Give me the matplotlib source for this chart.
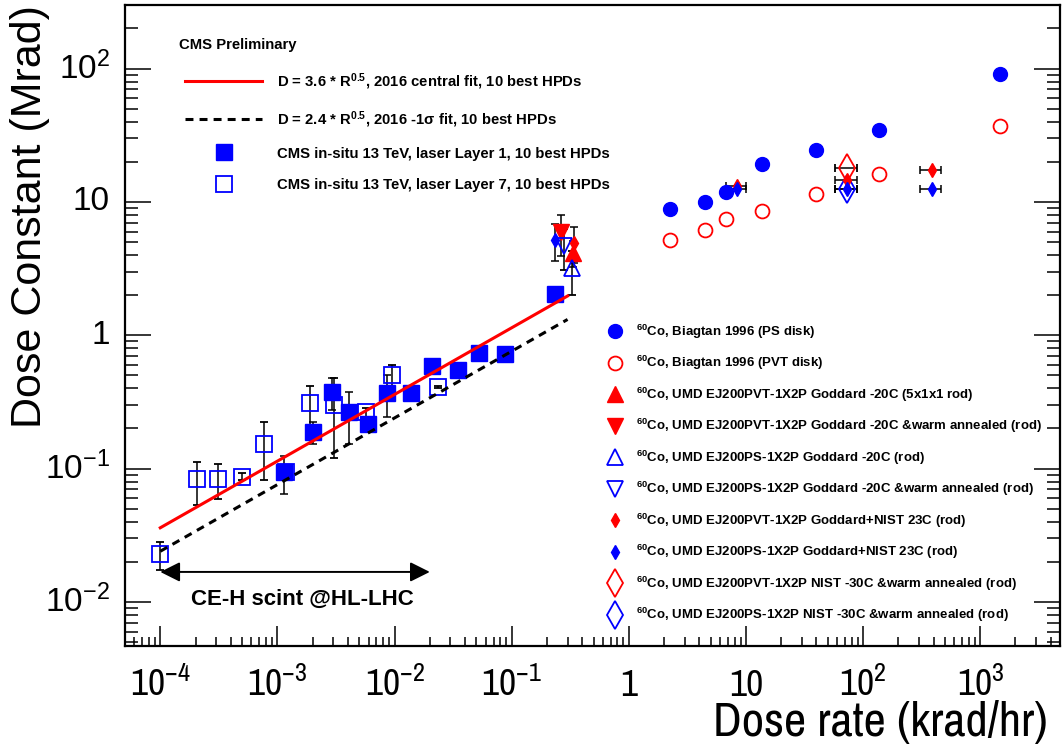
import numpy as np
import matplotlib
matplotlib.use("Agg")
import matplotlib.pyplot as plt
from matplotlib.lines import Line2D
from matplotlib.ticker import LogLocator, NullFormatter

plt.rcParams['font.family'] = ['Liberation Sans', 'DejaVu Sans']
plt.rcParams['mathtext.fontset'] = 'custom'
plt.rcParams['mathtext.default'] = 'regular'

BLUE = '#0000ff'
RED = '#ff0000'
NARROW = ['Liberation Sans Narrow', 'Archivo Narrow', 'Liberation Sans']

# CMS in-situ 13 TeV, laser Layer 1 (filled squares)
l1_rate = [1.14e-3, 2.0e-3, 2.95e-3, 4.1e-3, 5.9e-3, 8.7e-3, 1.38e-2, 2.1e-2, 3.5e-2, 5.3e-2, 8.7e-2, 0.235]
l1_dose = [0.094, 0.187, 0.376, 0.264, 0.215, 0.372, 0.372, 0.589, 0.55, 0.74, 0.73, 2.03]
l1_err = [0.03, 0.035, 0.10, 0.11, 0.02, 0.13, 0.03, 0.03, 0.03, 0.03, 0.03, 0.03]

# CMS in-situ 13 TeV, laser Layer 7 (open squares)
l7_rate = [1.0e-4, 2.07e-4, 3.13e-4, 5.0e-4, 7.7e-4, 1.18e-3, 1.9e-3, 3.05e-3, 5.7e-3, 9.5e-3, 2.33e-2]
l7_dose = [0.0229, 0.083, 0.084, 0.087, 0.152, 0.094, 0.313, 0.30, 0.264, 0.50, 0.41]
l7_err = [0.0055, 0.03, 0.025, 0.005, 0.07, 0.01, 0.10, 0.18, 0.02, 0.10, 0.01]

# Biagtan 1996
biag_rate = [2.26, 4.43, 6.8, 13.8, 39.4, 137, 1473]
biag_ps = [8.8, 9.97, 11.8, 19.1, 24.4, 34.5, 91.8]
biag_pvt = [5.2, 6.2, 7.4, 8.5, 11.4, 16.3, 37.0]

# UMD Goddard -20C
pvt_cold_rate, pvt_cold_dose, pvt_cold_err = [0.332], [4.17], [0.9]
pvt_ann_rate, pvt_ann_dose, pvt_ann_err = [0.264], [5.96], [2.05]
ps_cold_rate, ps_cold_dose, ps_cold_err = [0.328], [3.17], [1.15]
ps_ann_rate, ps_ann_dose, ps_ann_err = [0.278], [4.68], [1.6]

# UMD Goddard+NIST 23C
pvt_rt_rate = [0.339, 8.4, 73, 384]
pvt_rt_dose = [4.96, 13.1, 14.7, 17.5]
pvt_rt_err = [1.5, 0, 0, 0]
pvt_rt_xerr = [0, 1.7, 15, 78]
ps_rt_rate = [0.235, 8.4, 73, 384]
ps_rt_dose = [5.19, 12.6, 12.6, 12.6]
ps_rt_err = [1.6, 0, 0, 0]
ps_rt_xerr = [0, 1.7, 15, 78]

# UMD NIST -30C
pvt_nist_rate, pvt_nist_dose, pvt_nist_xerr = [73], [18.0], [15]
ps_nist_rate, ps_nist_dose, ps_nist_xerr = [73], [12.4], [15]

# fits D = a * R^0.5
fit_rate = np.array([1e-4, 0.3])
FIT_CENTRAL = 3.6
FIT_LOW = 2.4
FIT_EXP = 0.5

# CE-H range arrow
hl_lhc_rate = [1e-4, 0.02]
hl_lhc_dose = 0.0168

x_major = [1e-4, 1e-3, 1e-2, 1e-1, 1, 10, 1e2, 1e3]
x_labels = ['$10^{-4}$', '$10^{-3}$', '$10^{-2}$', '$10^{-1}$', '1', '10', '$10^{2}$', '$10^{3}$']
y_major = [1e-2, 1e-1, 1, 10, 1e2]
y_labels = ['$10^{-2}$', '$10^{-1}$', '1', '10', '$10^{2}$']

fig = plt.figure(figsize=(10.63, 7.45), dpi=100)
ax = fig.add_axes([0.1176, 0.1333, 0.8796, 0.86])
ax.set_xscale('log')
ax.set_yscale('log')

eb = dict(ecolor='black', elinewidth=1.1, capsize=3, capthick=1.1, linestyle='none')

ax.errorbar(biag_rate, biag_ps, fmt='o', ms=10, color=BLUE, **eb)
ax.errorbar(biag_rate, biag_pvt, fmt='o', ms=10, mfc='none', mec=RED, mew=1.3, **eb)
ax.errorbar(pvt_cold_rate, pvt_cold_dose, yerr=pvt_cold_err, fmt='^', ms=12, color=RED, **eb)
ax.errorbar(pvt_ann_rate, pvt_ann_dose, yerr=pvt_ann_err, fmt='v', ms=12, color=RED, **eb)
ax.errorbar(ps_cold_rate, ps_cold_dose, yerr=ps_cold_err, fmt='^', ms=12, mfc='none', mec=BLUE, mew=1.3, **eb)
ax.errorbar(ps_ann_rate, ps_ann_dose, yerr=ps_ann_err, fmt='v', ms=12, mfc='none', mec=BLUE, mew=1.3, **eb)
ax.errorbar(pvt_nist_rate, pvt_nist_dose, xerr=pvt_nist_xerr, fmt='d', ms=14, mfc='none', mec=RED, mew=1.3, **eb)
ax.errorbar(ps_nist_rate, ps_nist_dose, xerr=ps_nist_xerr, fmt='d', ms=14, mfc='none', mec=BLUE, mew=1.3, **eb)
ax.errorbar(pvt_rt_rate, pvt_rt_dose, xerr=pvt_rt_xerr, yerr=pvt_rt_err, fmt='d', ms=7, color=RED, **eb)
ax.errorbar(ps_rt_rate, ps_rt_dose, xerr=ps_rt_xerr, yerr=ps_rt_err, fmt='d', ms=7, color=BLUE, **eb)

ax.errorbar(l7_rate, l7_dose, yerr=l7_err, fmt='s', ms=12, mfc='none', mec=BLUE, mew=1.3, **eb)
ax.errorbar(l1_rate, l1_dose, yerr=l1_err, fmt='s', ms=12, color=BLUE, **eb)

ax.plot(fit_rate, FIT_CENTRAL * fit_rate ** FIT_EXP, color=RED, lw=2.2, zorder=5)
ax.plot(fit_rate, FIT_LOW * fit_rate ** FIT_EXP, color='black', lw=2.2, ls=(0, (2.6, 2.0)), zorder=5)

ax.annotate('', xy=(hl_lhc_rate[1], hl_lhc_dose), xytext=(hl_lhc_rate[0], hl_lhc_dose),
            arrowprops=dict(arrowstyle='<|-|>', color='black', lw=1.4, mutation_scale=30,
                            shrinkA=0, shrinkB=0))
ax.text(1.62e-3, 0.00946, 'CE-H scint @HL-LHC', ha='center', va='baseline',
        fontsize=16, fontweight='bold')

ax.set_xlim(5e-5, 4800)
ax.set_ylim(0.0047, 300)

ax.set_xticks(x_major)
ax.set_xticklabels(x_labels, fontsize=27, va='baseline', family=NARROW)
ax.set_yticks(y_major)
ax.set_yticklabels(y_labels, fontsize=24, va='center')
ax.xaxis.set_minor_locator(LogLocator(base=10, subs=np.arange(2, 10), numticks=100))
ax.yaxis.set_minor_locator(LogLocator(base=10, subs=np.arange(2, 10), numticks=100))
ax.xaxis.set_minor_formatter(NullFormatter())
ax.yaxis.set_minor_formatter(NullFormatter())
ax.tick_params(axis='x', which='major', direction='in', length=14.4, width=1.1, top=False, pad=36)
ax.tick_params(axis='x', which='minor', direction='in', length=6.5, width=1.1, top=False)
ax.tick_params(axis='y', which='major', direction='in', length=19, width=1.1, right=True, pad=11)
ax.tick_params(axis='y', which='minor', direction='in', length=9.4, width=1.1, right=True)
for s in ax.spines.values():
    s.set_linewidth(1.6)

ax.set_xlabel('Dose rate (krad/hr)', fontsize=35, ha='right', va='top', family=NARROW)
ax.xaxis.set_label_coords(0.987, -0.084)
ax.set_ylabel('Dose Constant (Mrad)', fontsize=31, ha='right', va='bottom')
ax.yaxis.set_label_coords(-0.080, 1.0)

# upper-left legend
ax.text(0.058, 0.9376, 'CMS Preliminary', transform=ax.transAxes, ha='left', va='center',
        fontsize=10.7, fontweight='bold')
h1 = [Line2D([], [], color=RED, lw=2.2),
      Line2D([], [], color='black', lw=2.2, ls=(0, (2.6, 2.0))),
      Line2D([], [], ls='none', marker='s', ms=12, color=BLUE),
      Line2D([], [], ls='none', marker='s', ms=12, mfc='none', mec=BLUE, mew=1.3)]
t1 = ['D = 3.6 * R$^{0.5}$, 2016 central fit, 10 best HPDs',
      'D = 2.4 * R$^{0.5}$, 2016 -1σ fit, 10 best HPDs',
      'CMS in-situ 13 TeV, laser Layer 1, 10 best HPDs',
      'CMS in-situ 13 TeV, laser Layer 7, 10 best HPDs']
leg1 = ax.legend(h1, t1, loc='upper left', bbox_to_anchor=(0.0642, 0.8965), frameon=False,
                 prop=dict(weight='bold', size=10.7), handlelength=5.2, handletextpad=1.0,
                 labelspacing=1.15, borderpad=0, borderaxespad=0)
ax.add_artist(leg1)

# right legend
h2 = [Line2D([], [], ls='none', marker='o', ms=10, color=BLUE),
      Line2D([], [], ls='none', marker='o', ms=10, mfc='none', mec=RED, mew=1.3),
      Line2D([], [], ls='none', marker='^', ms=12, color=RED),
      Line2D([], [], ls='none', marker='v', ms=12, color=RED),
      Line2D([], [], ls='none', marker='^', ms=12, mfc='none', mec=BLUE, mew=1.3),
      Line2D([], [], ls='none', marker='v', ms=12, mfc='none', mec=BLUE, mew=1.3),
      Line2D([], [], ls='none', marker='d', ms=7, color=RED),
      Line2D([], [], ls='none', marker='d', ms=7, color=BLUE),
      Line2D([], [], ls='none', marker='d', ms=14, mfc='none', mec=RED, mew=1.3),
      Line2D([], [], ls='none', marker='d', ms=14, mfc='none', mec=BLUE, mew=1.3)]
t2 = ['$^{60}$Co, Biagtan 1996 (PS disk)',
      '$^{60}$Co, Biagtan 1996 (PVT disk)',
      '$^{60}$Co, UMD EJ200PVT-1X2P Goddard -20C (5x1x1 rod)',
      '$^{60}$Co, UMD EJ200PVT-1X2P Goddard -20C &warm annealed (rod)',
      '$^{60}$Co, UMD EJ200PS-1X2P Goddard -20C (rod)',
      '$^{60}$Co, UMD EJ200PS-1X2P Goddard -20C &warm annealed (rod)',
      '$^{60}$Co, UMD EJ200PVT-1X2P Goddard+NIST 23C (rod)',
      '$^{60}$Co, UMD EJ200PS-1X2P Goddard+NIST 23C (rod)',
      '$^{60}$Co, UMD EJ200PVT-1X2P NIST -30C &warm annealed (rod)',
      '$^{60}$Co, UMD EJ200PS-1X2P NIST -30C &warm annealed (rod)']
ax.legend(h2, t2, loc='upper left', bbox_to_anchor=(0.5128, 0.5044), frameon=False,
          prop=dict(weight='bold', size=9.5), handlelength=1.6, handletextpad=0.8,
          labelspacing=1.01, borderpad=0, borderaxespad=0)

fig.savefig('out.png', dpi=100)
